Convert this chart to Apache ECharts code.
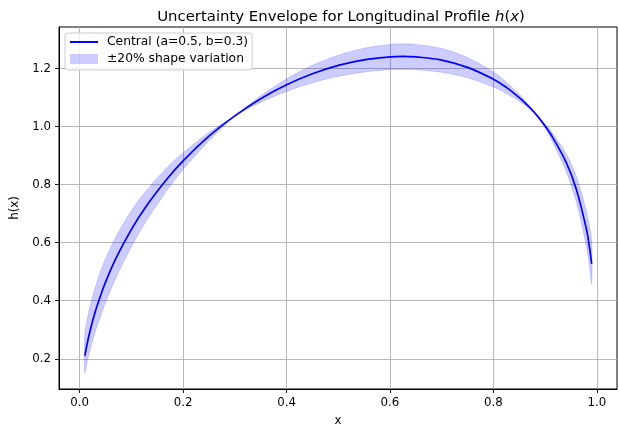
<!DOCTYPE html>
<html>
<head>
<meta charset="utf-8">
<script src="https://cdn.jsdelivr.net/npm/echarts@6/dist/echarts.min.js"></script>
<style>
  html, body { margin: 0; padding: 0; background: #fff; }
  #chart { width: 619px; height: 426px; }
</style>
</head>
<body>
<div id="chart"></div>
<script>
// x positions along the profile
var xValues = [0.01, 0.015, 0.02, 0.03, 0.04, 0.05, 0.07, 0.10, 0.13, 0.17, 0.20, 0.25, 0.30, 0.35, 0.40, 0.45,
  0.50, 0.55, 0.60, 0.625, 0.65, 0.70, 0.75, 0.80, 0.825, 0.85, 0.865, 0.88, 0.895, 0.91, 0.94, 0.96, 0.98, 0.985, 0.99];
// central profile h(x), a=0.5 b=0.3
var centralH = [0.210, 0.257, 0.296, 0.362, 0.416, 0.464, 0.546, 0.646, 0.729, 0.822, 0.882, 0.967, 1.037, 1.096, 1.144, 1.182,
  1.211, 1.230, 1.240, 1.242, 1.240, 1.229, 1.204, 1.163, 1.135, 1.100, 1.075, 1.047, 1.014, 0.976, 0.879, 0.786, 0.645, 0.593, 0.527];
// shape -20% (a=0.4, b=0.24)
var shapeLowH = [0.289, 0.340, 0.381, 0.446, 0.500, 0.545, 0.620, 0.710, 0.782, 0.861, 0.910, 0.980, 1.037, 1.083, 1.121, 1.151,
  1.173, 1.188, 1.196, 1.197, 1.196, 1.187, 1.168, 1.136, 1.114, 1.087, 1.067, 1.044, 1.018, 0.988, 0.908, 0.831, 0.709, 0.663, 0.603];
// shape +20% (a=0.6, b=0.36)
var shapeHighH = [0.152, 0.194, 0.230, 0.293, 0.346, 0.394, 0.479, 0.586, 0.678, 0.783, 0.852, 0.951, 1.035, 1.106, 1.164, 1.211,
  1.246, 1.270, 1.283, 1.285, 1.283, 1.269, 1.238, 1.188, 1.153, 1.111, 1.081, 1.047, 1.008, 0.963, 0.848, 0.743, 0.586, 0.530, 0.459];
var xTicks = [0, 0.2, 0.4, 0.6, 0.8, 1.0];
var yTicks = [0.2, 0.4, 0.6, 0.8, 1.0, 1.2];

var font = 'DejaVu Sans';
var centralName = 'Central (a=0.5, b=0.3)';
var bandName = '\u00b120% shape variation';

var bandLower = [], bandUpper = [], centralData = [];
for (var i = 0; i < xValues.length; i++) {
  bandLower.push(Math.min(shapeLowH[i], shapeHighH[i]));
  bandUpper.push(Math.max(shapeLowH[i], shapeHighH[i]));
  centralData.push([xValues[i], centralH[i]]);
}

// envelope polygon: upper edge left->right, lower edge back
function renderBand(params, api) {
  var pts = [];
  for (var i = 0; i < xValues.length; i++) pts.push(api.coord([xValues[i], bandUpper[i]]));
  for (var j = xValues.length - 1; j >= 0; j--) pts.push(api.coord([xValues[j], bandLower[j]]));
  return {
    type: 'polygon',
    shape: { points: pts, smooth: 0.3 },
    style: { fill: 'rgba(0,0,255,0.2)', stroke: 'rgba(0,0,255,0.2)', lineWidth: 0.8 },
    silent: true
  };
}

var axisLineStyle = { show: true, onZero: false, lineStyle: { color: '#000', width: 1 } };

var chart = echarts.init(document.getElementById('chart'));
chart.setOption({
  animation: false,
  title: {
    text: '{n|Uncertainty Envelope for Longitudinal Profile }{i|h}{n|(}{i|x}{n|)}',
    left: 336,
    top: 5,
    textAlign: 'center',
    textStyle: {
      rich: {
        n: { fontFamily: font, fontSize: 14.9, fontWeight: 'normal', color: '#000' },
        i: { fontFamily: font, fontSize: 14.9, fontWeight: 'normal', fontStyle: 'italic', color: '#000' }
      }
    }
  },
  grid: {
    left: 59, right: 2, top: 27, bottom: 37,
    outerBoundsMode: 'none',
    show: true, borderColor: '#000', borderWidth: 1, backgroundColor: 'transparent'
  },
  legend: {
    orient: 'vertical',
    left: 65,
    top: 33,
    padding: [3, 4, 5, 4],
    itemWidth: 28,
    itemHeight: 10,
    itemGap: 5,
    backgroundColor: 'rgba(255,255,255,0.8)',
    borderColor: '#cccccc',
    borderWidth: 1,
    borderRadius: 3,
    textStyle: { fontFamily: font, fontSize: 12.3, color: '#000', padding: [0, 0, 0, 4] },
    data: [
      { name: centralName, itemStyle: { opacity: 0 } },
      { name: bandName, icon: 'rect', itemStyle: { color: 'rgba(0,0,255,0.2)', borderWidth: 0 } }
    ]
  },
  xAxis: {
    type: 'value',
    min: -0.04,
    max: 1.039,
    name: 'x',
    nameLocation: 'middle',
    nameGap: 26,
    nameTextStyle: { fontFamily: font, fontSize: 11.8, color: '#000' },
    axisLine: axisLineStyle,
    axisTick: { show: true, length: 4, customValues: xTicks, lineStyle: { color: '#000', width: 0.9 } },
    axisLabel: {
      customValues: xTicks, margin: 8, fontFamily: font, fontSize: 11.8, color: '#000',
      formatter: function (v) { return v.toFixed(1); }
    },
    splitLine: { show: true, lineStyle: { color: '#b0b0b0', width: 0.9 } }
  },
  yAxis: {
    type: 'value',
    min: 0.096,
    max: 1.343,
    name: 'h(x)',
    nameLocation: 'middle',
    nameGap: 28,
    nameTextStyle: { fontFamily: font, fontSize: 11.8, color: '#000' },
    axisLine: axisLineStyle,
    axisTick: { show: true, length: 4, customValues: yTicks, lineStyle: { color: '#000', width: 0.9 } },
    axisLabel: {
      customValues: yTicks, margin: 8, fontFamily: font, fontSize: 11.8, color: '#000',
      formatter: function (v) { return v.toFixed(1); }
    },
    splitLine: { show: true, lineStyle: { color: '#b0b0b0', width: 0.9 } }
  },
  series: [
    {
      name: bandName,
      type: 'custom',
      data: [[xValues[0], bandLower[0]]],
      encode: { x: 0, y: 1 },
      renderItem: renderBand,
      itemStyle: { color: 'rgba(0,0,255,0.2)' },
      silent: true,
      z: 1
    },
    {
      name: centralName,
      type: 'line',
      data: centralData,
      smooth: 0.4,
      symbol: 'none',
      itemStyle: { color: '#0000ff' },
      lineStyle: { color: '#0000ff', width: 1.7 },
      z: 3
    }
  ]
});
</script>
</body>
</html>
